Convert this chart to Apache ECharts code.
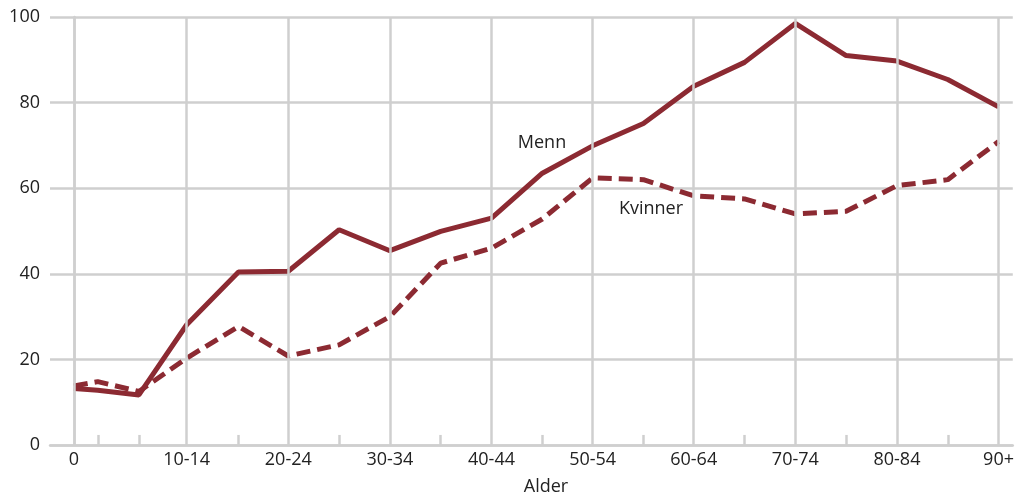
<!DOCTYPE html>
<html>
<head>
<meta charset="utf-8">
<script src="https://cdn.jsdelivr.net/npm/echarts@6/dist/echarts.min.js"></script>
<style>
html,body{margin:0;padding:0;background:#fff;}
#chart{width:1017px;height:495px;}
</style>
</head>
<body>
<div id="chart"></div>
<script>
// Age groups and their position on the age axis
const ageGroups = ["0","1-4","5-9","10-14","15-19","20-24","25-29","30-34","35-39","40-44","45-49","50-54","55-59","60-64","65-69","70-74","75-79","80-84","85-89","90+"];
const agePos = [0, 2.35, 6.4, 11.1, 16.2, 21.1, 26.1, 31.1, 36.1, 41.1, 46.1, 51.05, 56.05, 61, 66, 71, 76, 81, 86, 91];
const menn = [13.2, 12.8, 11.7, 28.1, 40.4, 40.6, 50.3, 45.4, 49.9, 53.0, 63.5, 69.9, 75.1, 83.8, 89.4, 98.5, 91.0, 89.7, 85.4, 79.0];
const kvinner = [13.8, 14.8, 12.5, 20.3, 27.7, 20.8, 23.4, 30.0, 42.5, 46.0, 52.8, 62.4, 62.0, 58.2, 57.5, 54.0, 54.6, 60.6, 62.0, 70.9];
const labelledGroups = ["0","10-14","20-24","30-34","40-44","50-54","60-64","70-74","80-84","90+"];
const yTicks = [0, 20, 40, 60, 80, 100];

const posOf = g => agePos[ageGroups.indexOf(g)];
const labelPos = labelledGroups.map(posOf);
const minorPos = ageGroups.filter(g => labelledGroups.indexOf(g) < 0).map(posOf);

const COLOR = '#8c2a32';
const GRID = '#cfcfcf';
const FONT = '"Open Sans", "Noto Sans", sans-serif';
const TICK_LEN = 2.35; // minor tick height in y-axis units (about 10px)

const chart = echarts.init(document.getElementById('chart'), null, {renderer: 'canvas'});
chart.setOption({
  animation: false,
  backgroundColor: '#fff',
  grid: {left: 50, right: 0, top: 17, bottom: 50, containLabel: false},
  xAxis: {
    type: 'value',
    min: -2.35,
    max: 92.4,
    axisLine: {show: true, lineStyle: {color: GRID, width: 2.5}},
    axisTick: {show: false},
    splitLine: {show: false},
    axisLabel: {
      customValues: labelPos,
      margin: 6,
      color: '#222',
      fontSize: 18,
      fontFamily: FONT,
      formatter: v => {
        let best = 0;
        labelPos.forEach((p, i) => { if (Math.abs(p - v) < Math.abs(labelPos[best] - v)) best = i; });
        return labelledGroups[best];
      }
    }
  },
  yAxis: {
    type: 'value',
    min: 0,
    max: 100,
    interval: 20,
    axisLine: {show: true, lineStyle: {color: GRID, width: 2.5}},
    axisTick: {show: false},
    splitLine: {show: true, lineStyle: {color: GRID, width: 2.5}},
    axisLabel: {
      margin: 10,
      color: '#222',
      fontSize: 18,
      fontFamily: FONT,
      formatter: v => yTicks.indexOf(v) >= 0 ? String(v) : ''
    }
  },
  series: [
    {
      type: 'line',
      z: 1,
      data: [],
      silent: true,
      markLine: {
        silent: true,
        symbol: ['none', 'none'],
        label: {show: false},
        emphasis: {disabled: true},
        lineStyle: {color: GRID, width: 2.5, type: 'solid'},
        data: labelPos.map(p => ({xAxis: p})).concat(
          minorPos.map(p => [{coord: [p, 0]}, {coord: [p, TICK_LEN]}])
        )
      }
    },
    {
      name: 'Kvinner',
      type: 'line',
      z: 3,
      data: agePos.map((x, i) => [x, kvinner[i]]),
      showSymbol: false,
      symbol: 'none',
      lineStyle: {color: COLOR, width: 5, type: [14, 7]}
    },
    {
      name: 'Menn',
      type: 'line',
      z: 4,
      data: agePos.map((x, i) => [x, menn[i]]),
      showSymbol: false,
      symbol: 'none',
      lineStyle: {color: COLOR, width: 5, type: 'solid'}
    }
  ],
  graphic: [
    {type: 'text', x: 542, y: 143, style: {text: 'Menn', fill: '#222', font: '18px ' + FONT, textAlign: 'center', textVerticalAlign: 'middle'}},
    {type: 'text', x: 651, y: 209, style: {text: 'Kvinner', fill: '#222', font: '18px ' + FONT, textAlign: 'center', textVerticalAlign: 'middle'}},
    {type: 'text', x: 546, y: 487, style: {text: 'Alder', fill: '#222', font: '18px ' + FONT, textAlign: 'center', textVerticalAlign: 'middle'}}
  ]
});
</script>
</body>
</html>
